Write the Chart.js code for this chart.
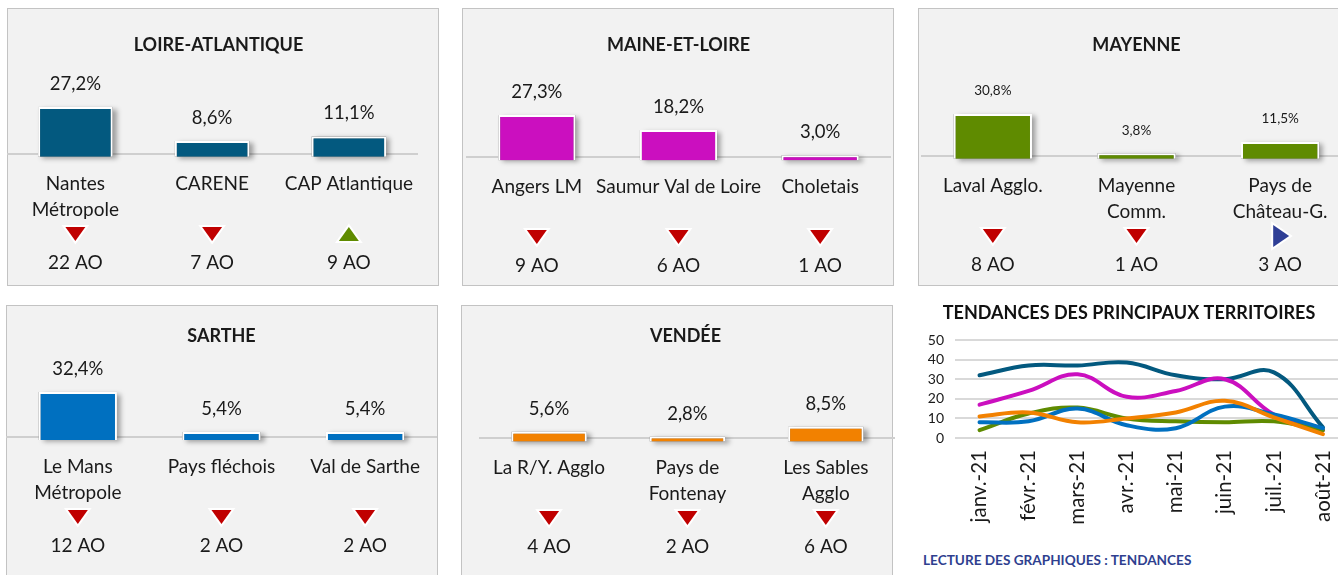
<!DOCTYPE html>
<html lang="fr">
<head>
<meta charset="UTF-8">
<title>Tendances des principaux territoires</title>
<script src="https://cdn.jsdelivr.net/npm/chart.js"></script>
<style>
  html, body { margin: 0; padding: 0; background: #fff; overflow: hidden; width: 1338px; height: 575px; }
  .panneau { position: absolute; box-sizing: border-box; border: 1px solid #c3c3c3; background: #f2f2f2; }
  canvas { position: absolute; }
  #lecture { position: absolute; left: 923px; top: 552px; font: bold 13.6px Lato; color: #2f3f8f; }
</style>
</head>
<body>
  <div class="panneau" style="left:7px;top:8px;width:432px;height:278px"></div>
  <div class="panneau" style="left:462px;top:8px;width:432px;height:278px"></div>
  <div class="panneau" style="left:918px;top:8px;width:432px;height:278px"></div>
  <div class="panneau" style="left:6px;top:305px;width:432px;height:280px"></div>
  <div class="panneau" style="left:461px;top:305px;width:432px;height:280px"></div>

  <canvas id="c1" width="423" height="276" style="left:7px;top:9px"></canvas>
  <canvas id="c2" width="425" height="276" style="left:466px;top:9px"></canvas>
  <canvas id="c3" width="431" height="276" style="left:921px;top:9px"></canvas>
  <canvas id="c4" width="431" height="270" style="left:6px;top:306px"></canvas>
  <canvas id="c5" width="419" height="270" style="left:476px;top:306px"></canvas>
  <canvas id="c6" width="455" height="245" style="left:905px;top:290px"></canvas>

  <div id="lecture">LECTURE DES GRAPHIQUES : TENDANCES</div>

<script>
// --- données par département ---
const CAT_LA = [['Nantes', 'Métropole'], 'CARENE', 'CAP Atlantique'];
const PART_LA = [27.2, 8.6, 11.1];
const AO_LA = [22, 7, 9];
const SENS_LA = ['down', 'down', 'up'];

const CAT_ML = ['Angers LM', 'Saumur Val de Loire', 'Choletais'];
const PART_ML = [27.3, 18.2, 3.0];
const AO_ML = [9, 6, 1];
const SENS_ML = ['down', 'down', 'down'];

const CAT_MAY = ['Laval Agglo.', ['Mayenne', 'Comm.'], ['Pays de', 'Château-G.']];
const PART_MAY = [30.8, 3.8, 11.5];
const AO_MAY = [8, 1, 3];
const SENS_MAY = ['down', 'down', 'right'];

const CAT_SAR = [['Le Mans', 'Métropole'], 'Pays fléchois', 'Val de Sarthe'];
const PART_SAR = [32.4, 5.4, 5.4];
const AO_SAR = [12, 2, 2];
const SENS_SAR = ['down', 'down', 'down'];

const CAT_VEN = ['La R/Y. Agglo', ['Pays de', 'Fontenay'], ['Les Sables', 'Agglo']];
const PART_VEN = [5.6, 2.8, 8.5];
const AO_VEN = [4, 2, 6];
const SENS_VEN = ['down', 'down', 'down'];

// --- tendances mensuelles ---
const MOIS = ['janv.-21', 'févr.-21', 'mars-21', 'avr.-21', 'mai-21', 'juin-21', 'juil.-21', 'août-21'];
const TEND_LA = [32, 37, 37, 38.5, 32, 30, 33.5, 5.5];
const TEND_ML = [17, 24, 32.5, 21, 24, 30, 12, 4];
const TEND_MAY = [4, 12.5, 15.5, 10, 8.5, 8, 8.5, 4];
const TEND_SAR = [8, 8.5, 15, 6.5, 5, 16, 12, 5];
const TEND_VEN = [11, 13, 8, 10, 13, 19, 10.5, 2];

const COULEURS = { la: '#03597f', ml: '#cb0fbf', may: '#5f8b00', sar: '#0070c0', ven: '#f28100' };
const FONT = 'Lato';
const TEXTE = '#1a1a1a';

function triangle(ctx, x, y, sens) {
    const fill = { down: '#c00000', up: '#5f8b00', right: '#2f3f96' };
    ctx.beginPath();
    if (sens === 'down') {
        ctx.moveTo(x - 10, y - 7); ctx.lineTo(x + 10, y - 7); ctx.lineTo(x, y + 7);
    } else if (sens === 'up') {
        ctx.moveTo(x - 10, y + 7); ctx.lineTo(x + 10, y + 7); ctx.lineTo(x, y - 7);
    } else {
        ctx.moveTo(x - 7, y - 11); ctx.lineTo(x - 7, y + 11); ctx.lineTo(x + 9, y);
    }
    ctx.closePath();
    ctx.lineJoin = 'miter';
    ctx.lineWidth = 4;
    ctx.strokeStyle = '#fff';
    ctx.stroke();
    ctx.fillStyle = fill[sens];
    ctx.fill();
}

// ombre des barres + étiquettes + flèches
const decor = {
    id: 'decor',
    beforeDatasetsDraw(chart) {
        const ctx = chart.ctx;
        ctx.save();
        ctx.shadowColor = 'rgba(0,0,0,0.35)';
        ctx.shadowBlur = 5;
        ctx.shadowOffsetX = 4;
        ctx.shadowOffsetY = 2;
        ctx.fillStyle = '#888';
        chart.getDatasetMeta(0).data.forEach(b => {
            ctx.fillRect(b.x - b.width / 2, b.y, b.width, b.base - b.y);
        });
        ctx.restore();
    },
    afterDatasetsDraw(chart, args, opts) {
        const ctx = chart.ctx;
        const values = chart.data.datasets[0].data;
        ctx.save();
        ctx.fillStyle = TEXTE;
        ctx.font = opts.valueSize + 'px ' + FONT;
        ctx.textAlign = 'center';
        ctx.textBaseline = 'middle';
        chart.getDatasetMeta(0).data.forEach((b, i) => {
            ctx.fillText(values[i].toFixed(1).replace('.', ',') + '%', b.x, b.y - 23);
        });
        opts.sens.forEach((s, i) => {
            triangle(ctx, chart.scales.x.getPixelForValue(i), chart.chartArea.bottom + 80, s);
        });
        ctx.restore();
    }
};

function panneau(id, titre, cats, parts, ao, sens, couleur, p) {
    const canvas = document.getElementById(id);
    const H = canvas.height;
    new Chart(canvas, {
        type: 'bar',
        data: {
            labels: cats,
            datasets: [{
                data: parts,
                backgroundColor: couleur,
                borderColor: '#fff',
                borderWidth: 2,
                barPercentage: 0.545,
                categoryPercentage: 1,
                clip: false
            }]
        },
        plugins: [decor],
        options: {
            responsive: false,
            animation: false,
            layout: { padding: 0 },
            plugins: {
                legend: { display: false },
                tooltip: { enabled: false },
                title: {
                    display: true,
                    text: titre,
                    color: TEXTE,
                    font: { family: FONT, size: 18, weight: 'bold', lineHeight: 1.2 },
                    padding: { top: p.titleY - 10.8, bottom: (p.baseline - 80) - p.titleY - 10.8 }
                },
                decor: { sens: sens, valueSize: p.valueSize }
            },
            scales: {
                x: {
                    offset: true,
                    grid: { display: false, drawTicks: false },
                    border: { display: true, color: '#cfcfcf', width: 2 },
                    ticks: {
                        autoSkip: false,
                        maxRotation: 0,
                        padding: 17,
                        color: TEXTE,
                        font: { family: FONT, size: 19, lineHeight: 1.38 },
                        callback: function (v, i) {
                            const nom = this.getLabelForValue(v);
                            const lignes = Array.isArray(nom) ? nom.slice() : [nom];
                            while (lignes.length < 2) lignes.push('');
                            lignes.push('');
                            lignes.push(ao[i] + ' AO');
                            return lignes;
                        }
                    },
                    afterFit: s => { s.height = H - p.baseline; }
                },
                y: { display: false, min: p.yMin, max: p.yMax }
            }
        }
    });
}

panneau('c1', 'LOIRE-ATLANTIQUE', CAT_LA, PART_LA, AO_LA, SENS_LA, COULEURS.la,
    { baseline: 145, titleY: 36, yMin: 1.5, yMax: 45.2, valueSize: 18.5 });
panneau('c2', 'MAINE-ET-LOIRE', CAT_ML, PART_ML, AO_ML, SENS_ML, COULEURS.ml,
    { baseline: 148, titleY: 36, yMin: 1.9, yMax: 50.4, valueSize: 18.5 });
panneau('c3', 'MAYENNE', CAT_MAY, PART_MAY, AO_MAY, SENS_MAY, COULEURS.may,
    { baseline: 147, titleY: 36, yMin: 1.9, yMax: 57.1, valueSize: 13.5 });
panneau('c4', 'SARTHE', CAT_SAR, PART_SAR, AO_SAR, SENS_SAR, COULEURS.sar,
    { baseline: 131, titleY: 30, yMin: 2, yMax: 56, valueSize: 18.5 });
panneau('c5', 'VENDÉE', CAT_VEN, PART_VEN, AO_VEN, SENS_VEN, COULEURS.ven,
    { baseline: 132, titleY: 30, yMin: 2, yMax: 48.5, valueSize: 18.5 });

// courbes de tendance
new Chart(document.getElementById('c6'), {
    type: 'line',
    data: {
        labels: MOIS,
        datasets: [
            { label: 'Loire-Atlantique', data: TEND_LA, borderColor: COULEURS.la, order: 4 },
            { label: 'Maine-et-Loire', data: TEND_ML, borderColor: COULEURS.ml, order: 3 },
            { label: 'Mayenne', data: TEND_MAY, borderColor: COULEURS.may, order: 2 },
            { label: 'Sarthe', data: TEND_SAR, borderColor: COULEURS.sar, order: 1 },
            { label: 'Vendée', data: TEND_VEN, borderColor: COULEURS.ven, order: 0 }
        ]
    },
    options: {
        responsive: false,
        animation: false,
        layout: { padding: { right: 7 } },
        elements: {
            line: { borderWidth: 4, tension: 0.4, borderCapStyle: 'round' },
            point: { radius: 0 }
        },
        plugins: {
            legend: { display: false },
            tooltip: { enabled: false },
            title: {
                display: true,
                text: 'TENDANCES DES PRINCIPAUX TERRITOIRES',
                color: '#111',
                font: { family: FONT, size: 18, weight: 'bold', lineHeight: 1.2 },
                padding: { top: 12, bottom: 16.4 }
            }
        },
        scales: {
            x: {
                offset: true,
                grid: { display: false, drawTicks: false },
                border: { display: false },
                ticks: { autoSkip: false, minRotation: 90, maxRotation: 90, padding: 12, color: TEXTE, font: { family: FONT, size: 20.5 } },
                afterFit: s => { s.height = 97; }
            },
            y: {
                min: 0,
                max: 50,
                grid: { color: '#d9d9d9', lineWidth: 2, drawTicks: false },
                border: { display: false },
                ticks: { stepSize: 10, autoSkip: false, padding: 11, color: TEXTE, font: { family: FONT, size: 14 } },
                afterFit: s => { s.width = 50; }
            }
        }
    }
});
</script>
</body>
</html>
